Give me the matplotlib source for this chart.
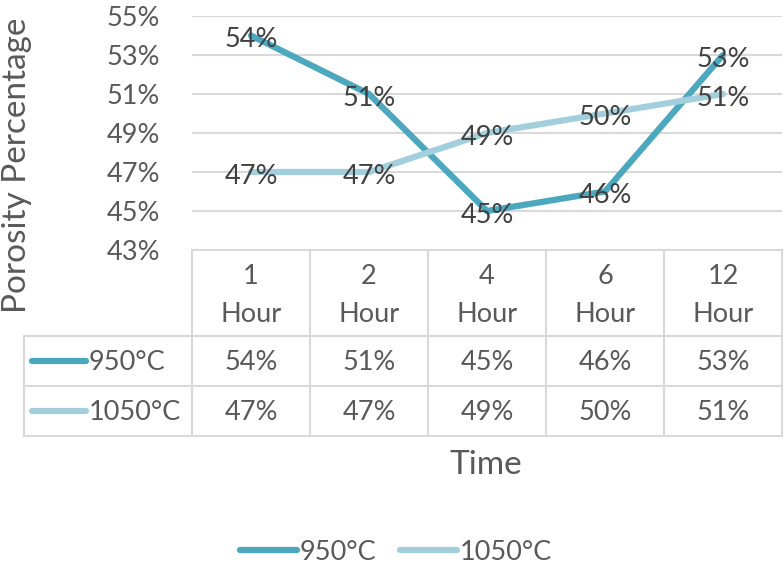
import matplotlib
matplotlib.use("Agg")
import matplotlib.pyplot as plt
from matplotlib.lines import Line2D

# Porosity vs. sintering time for two temperatures
times = ["1 Hour", "2 Hour", "4 Hour", "6 Hour", "12 Hour"]
series_names = ["950°C", "1050°C"]
porosity_950 = [0.54, 0.51, 0.45, 0.46, 0.53]
porosity_1050 = [0.47, 0.47, 0.49, 0.50, 0.51]
y_ticks = [0.43, 0.45, 0.47, 0.49, 0.51, 0.53, 0.55]

COLORS = ["#4BA8BF", "#A3CFDD"]
TEXT = "#595959"
LABEL = "#404040"
GRID = "#D9D9D9"
FONT = "Lato"
FS = 19.5
TITLE_FS = 24

plt.rcParams["font.family"] = [FONT, "DejaVu Sans"]

W, H = 784, 570
fig = plt.figure(figsize=(W / 100, H / 100), dpi=100)

# plot area in pixel terms
px_l, px_r, px_t, px_b = 192, 782, 16, 250
ax = fig.add_axes([px_l / W, 1 - px_b / H, (px_r - px_l) / W, (px_b - px_t) / H])
xs = list(range(len(times)))
ax.set_xlim(-0.5, len(times) - 0.5)
ax.set_ylim(y_ticks[0], y_ticks[-1])
ax.set_yticks(y_ticks)
ax.set_yticklabels([f"{v:.0%}" for v in y_ticks])
ax.set_xticks([])
ax.tick_params(axis="y", length=0, pad=23, labelsize=FS, labelcolor=TEXT)
for s in ax.spines.values():
    s.set_visible(False)
ax.grid(axis="y", color=GRID, lw=1.5)
ax.set_axisbelow(True)

for vals, c in zip([porosity_950, porosity_1050], COLORS):
    ax.plot(xs, vals, color=c, lw=4.5, solid_capstyle="round", solid_joinstyle="round",
            zorder=3, clip_on=False)
for vals in [porosity_950, porosity_1050]:
    for x, v in zip(xs, vals):
        ax.annotate(f"{v:.0%}", (x, v), xytext=(0, -3), textcoords="offset points",
                    ha="center", va="center", fontsize=FS, color=LABEL, zorder=4)

ax.set_ylabel("Porosity Percentage", fontsize=TITLE_FS, color=TEXT)
ax.yaxis.set_label_coords(32 / W, 1 - 165 / H, transform=fig.transFigure)

# data table drawn underneath, in pixel coordinates
tab = fig.add_axes([0, 0, 1, 1], zorder=-1)
tab.set_xlim(0, W)
tab.set_ylim(H, 0)
tab.axis("off")

col_w = (px_r - px_l) / len(times)
edges = [px_l + i * col_w for i in range(len(times) + 1)]
row_y = [250, 336, 386, 436]
tab_l = 24

tab.plot([px_l, px_r], [row_y[0], row_y[0]], color=GRID, lw=1.5)
for y in row_y[1:]:
    tab.plot([tab_l, px_r], [y, y], color=GRID, lw=1.5)
tab.plot([tab_l, tab_l], [row_y[1], row_y[-1]], color=GRID, lw=1.5)
for x in edges:
    tab.plot([x, x], [row_y[0], row_y[-1]], color=GRID, lw=1.5)

for i, t in enumerate(times):
    cx = (edges[i] + edges[i + 1]) / 2
    num, unit = t.split(" ")
    tab.text(cx, 277, num, ha="center", va="center", fontsize=FS, color=TEXT)
    tab.text(cx, 314, unit, ha="center", va="center", fontsize=FS, color=TEXT)

for r, (name, vals, c) in enumerate(zip(series_names, [porosity_950, porosity_1050], COLORS)):
    cy = (row_y[r + 1] + row_y[r + 2]) / 2
    tab.plot([32, 86], [cy, cy], color=c, lw=4.5, solid_capstyle="round")
    tab.text(89, cy + 2, name, ha="left", va="center", fontsize=FS, color=TEXT)
    for i, v in enumerate(vals):
        cx = (edges[i] + edges[i + 1]) / 2
        tab.text(cx, cy + 2, f"{v:.0%}", ha="center", va="center", fontsize=FS, color=TEXT)

fig.text(486 / W, 1 - 465 / H, "Time", ha="center", va="center", fontsize=TITLE_FS, color=TEXT)

handles = [Line2D([], [], color=c, lw=4.5, solid_capstyle="round") for c in COLORS]
fig.legend(handles, series_names, loc="center", bbox_to_anchor=(0.505, 1 - 552 / H),
           ncol=2, frameon=False, fontsize=FS, labelcolor=TEXT, handlelength=2.1,
           handletextpad=0.1, columnspacing=0.9)

fig.savefig("out.png", dpi=100)
